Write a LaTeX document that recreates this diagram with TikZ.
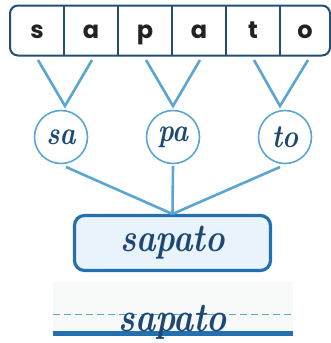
\documentclass[tikz,border=0pt]{standalone}
\usepackage{fontspec}
\newfontfamily\letterfont{Poppins}[BoldFont={* Bold}]
\definecolor{boxblue}{HTML}{1F4E79}
\definecolor{lineblue}{HTML}{5AA5D2}
\definecolor{inkblue}{HTML}{1C4873}
\definecolor{midblue}{HTML}{2270B0}
\definecolor{fillblue}{HTML}{E9F3FC}
\definecolor{paper}{HTML}{F8FAFA}
\definecolor{letterink}{HTML}{222222}
\newcommand{\cursive}[2]{{\fontsize{#1}{#1}\selectfont\bfseries\itshape\scalebox{1}[1.2]{#2}}}
\tikzset{
  letter/.style={text=letterink,font=\letterfont\bfseries\fontsize{24}{24}\selectfont,anchor=base},
  syl/.style={circle,draw=lineblue,line width=1.6pt,minimum size=53pt,inner sep=0pt,
    text=inkblue},
  link/.style={draw=lineblue,line width=2.6pt},
  wordbox/.style={draw=midblue,fill=fillblue,line width=3.2pt,rounded corners=10pt,
    minimum width=196pt,minimum height=55pt,inner sep=0pt,text=inkblue},
}
\begin{document}
\begin{tikzpicture}[x=1pt,y=-1pt]
\useasboundingbox (0,0) rectangle (331,343);
% top word strip
\draw[boxblue,line width=2pt,rounded corners=8pt] (10,5.5) rectangle (330,55.5);
\foreach \x in {64,118,172,226,280} \draw[boxblue,line width=2pt] (\x,5.5) -- (\x,55.5);
\node[letter] (l1) at (37,38.5) {s};
\node[letter] (l2) at (91,38.5) {a};
\node[letter] (l3) at (145,38.5) {p};
\node[letter] (l4) at (199,38.5) {a};
\node[letter] (l5) at (253,38.5) {t};
\node[letter] (l6) at (305,38.5) {o};
% V connectors
\coordinate (a1) at (38,60); \coordinate (b1) at (92,60); \coordinate (t1) at (65,106);
\coordinate (a2) at (146,60); \coordinate (b2) at (200,60); \coordinate (t2) at (173,106);
\coordinate (a3) at (254,60); \coordinate (b3) at (308,60); \coordinate (t3) at (280,106);
\draw[link] (a1) -- (t1) -- (b1);
\draw[link] (a2) -- (t2) -- (b2);
\draw[link] (a3) -- (t3) -- (b3);
% syllables
\node[syl] (s1) at (61,137) {\cursive{27}{sa}};
\node[syl] (s2) at (173,137) {\cursive{27}{pa}};
\node[syl] (s3) at (285,137) {\cursive{27}{to}};
% word box
\node[wordbox] (w) at (172.5,243) {\cursive{33}{sapato}};
\coordinate (c1) at (66,167); \coordinate (c2) at (173,166); \coordinate (c3) at (280,167);
\coordinate (m) at (172.5,214);
\draw[link] (c1) -- (m);
\draw[link] (c2) -- (m);
\draw[link] (c3) -- (m);
% writing line
\fill[paper] (53,282) rectangle (293,331);
\draw[lineblue,line width=1.6pt,dash pattern=on 7pt off 4pt] (53,314.3) -- (293,314.3);
\draw[midblue,line width=5pt] (53,333.5) -- (293,333.5);
\node[text=inkblue,anchor=base,inner sep=0pt] (wr) at (172.5,331) {\cursive{34}{sapato}};
\end{tikzpicture}
\end{document}
